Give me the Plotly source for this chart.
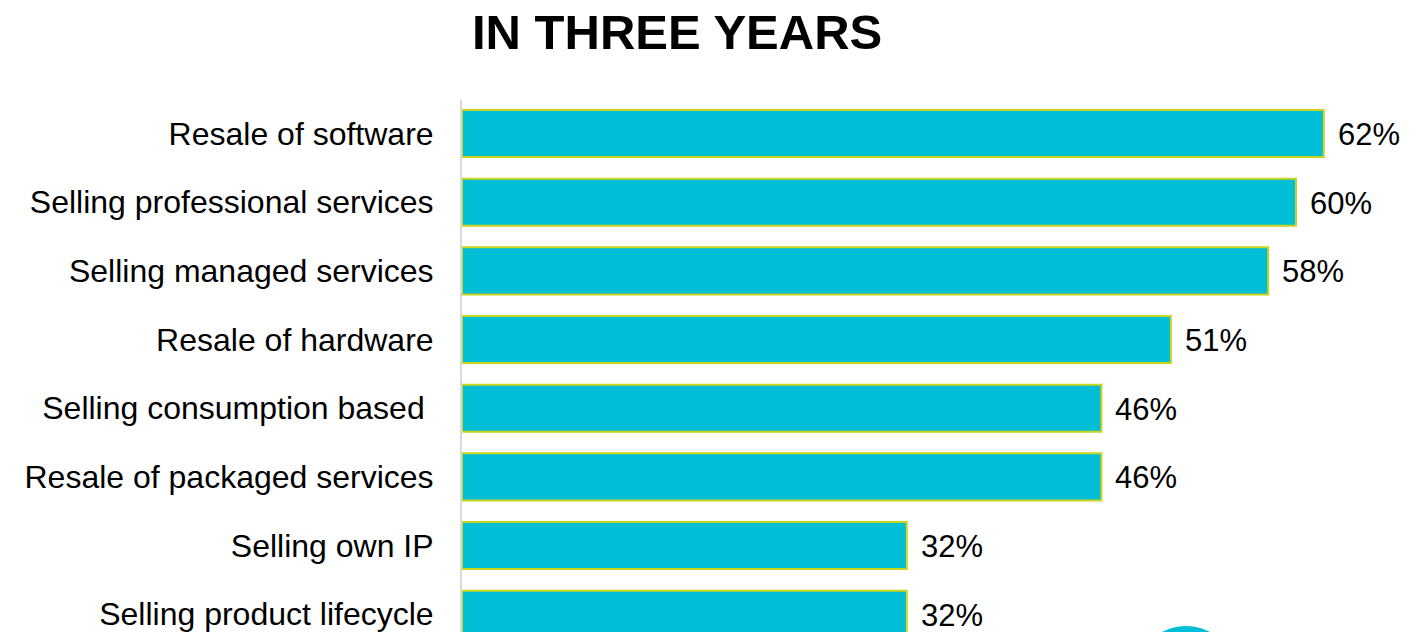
import plotly.graph_objects as go

# Share of respondents per revenue activity, top to bottom
categories = [
    "Resale of software",
    "Selling professional services",
    "Selling managed services",
    "Resale of hardware",
    "Selling consumption based\u00a0",
    "Resale of packaged services",
    "Selling own IP",
    "Selling product lifecycle",
]
values = [62, 60, 58, 51, 46, 46, 32, 32]
value_labels = ["62%", "60%", "58%", "51%", "46%", "46%", "32%", "32%"]

W, H = 1425, 632
ML, MR, MT, MB = 462, 0, 100, 0
PW, PH = W - ML - MR, H - MT - MB

BAR_FILL = "#00BED6"
BAR_EDGE = "#C9D41C"
FONT = "Liberation Sans, Arial, sans-serif"

fig = go.Figure(
    go.Bar(
        x=values,
        y=categories,
        orientation="h",
        marker=dict(color=BAR_FILL, line=dict(color=BAR_EDGE, width=2)),
        width=0.685,
        hoverinfo="skip",
    )
)

# value labels to the right of each bar
for cat, val, lab in zip(categories, values, value_labels):
    fig.add_annotation(
        x=val, y=cat, text=lab, showarrow=False,
        xanchor="left", yanchor="middle", xshift=12, yshift=-1,
        font=dict(family=FONT, size=31, color="#000000"),
    )

# title
fig.add_annotation(
    xref="paper", yref="paper",
    x=(677 - ML) / PW, y=1 + (MT - 32) / PH,
    text="<b>IN THREE YEARS</b>", showarrow=False,
    xanchor="center", yanchor="middle",
    font=dict(family=FONT, size=49, color="#000000"),
)

# decorative disc at the lower right
cx, cy, r = 1186, 677, 51
fig.add_shape(
    type="circle", xref="paper", yref="paper",
    x0=(cx - r - ML) / PW, x1=(cx + r - ML) / PW,
    y0=1 - (cy + r - MT) / PH, y1=1 - (cy - r - MT) / PH,
    fillcolor=BAR_FILL, line=dict(width=0), layer="above",
)

fig.update_layout(
    width=W, height=H,
    margin=dict(l=ML, r=MR, t=MT, b=MB, pad=0),
    paper_bgcolor="white", plot_bgcolor="white",
    showlegend=False,
    xaxis=dict(range=[0, PW / 13.9], visible=False, fixedrange=True),
    yaxis=dict(
        range=[7.259, -0.488],
        showline=True, linecolor="#D9D9D9", linewidth=2,
        showgrid=False, zeroline=False, ticks="",
        ticklabelstandoff=20,
        tickfont=dict(family=FONT, size=32, color="#000000"),
        fixedrange=True,
    ),
)

fig.write_html("out.html")
